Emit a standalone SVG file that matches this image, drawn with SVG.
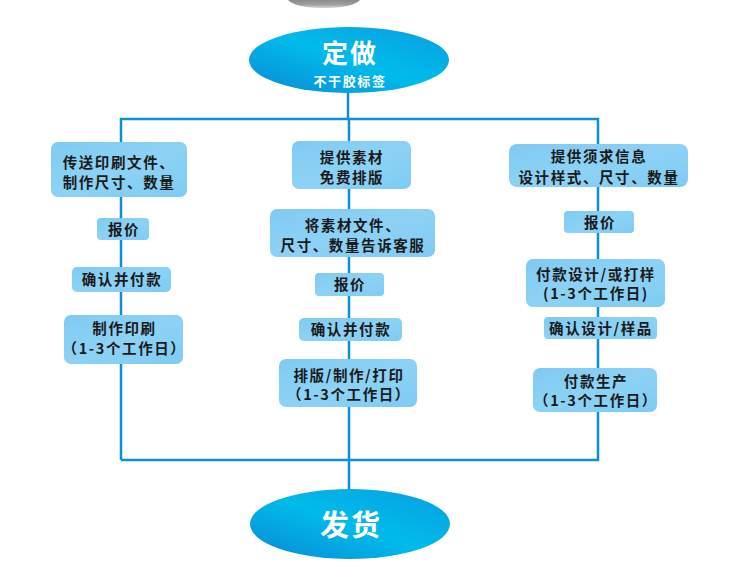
<svg xmlns="http://www.w3.org/2000/svg" width="750" height="581" viewBox="0 0 750 581">
<defs>
<linearGradient id="eg" x1="0" y1="1" x2="1" y2="0">
<stop offset="0" stop-color="#0a88d6"/>
<stop offset="0.5" stop-color="#00bbea"/>
<stop offset="1" stop-color="#0a9ee0"/>
</linearGradient>
<linearGradient id="sh" x1="0" y1="0" x2="0" y2="1">
<stop offset="0" stop-color="#8c8c8c"/>
<stop offset="0.6" stop-color="#a0a0a0"/>
<stop offset="1" stop-color="#d8d8d8"/>
</linearGradient>
<linearGradient id="bg" x1="0" y1="0" x2="1" y2="1">
<stop offset="0" stop-color="#7fcaf2"/>
<stop offset="0.5" stop-color="#8dd2f5"/>
<stop offset="1" stop-color="#7fcbf3"/>
</linearGradient>
</defs>
<style>
.box{fill:url(#bg)}
.t{font-family:"Noto Sans CJK SC","Liberation Sans",sans-serif;font-size:14.5px;font-weight:bold;letter-spacing:1.6px;fill:#1a1a1a;text-anchor:middle}
.w{font-family:"Noto Sans CJK SC","Liberation Sans",sans-serif;font-weight:bold;fill:#ffffff;text-anchor:middle}
.ln{stroke:#0a90d8;stroke-width:2.5;fill:none}
</style>
<rect width="750" height="581" fill="#ffffff"/>
<path d="M288,0 L360,0 Q352,8 324,8 Q296,8 288,0 Z" fill="url(#sh)"/>

<g id="connectors">
<line class="ln" x1="348" y1="92" x2="348" y2="119"/>
<polyline class="ln" points="121,460 121,119 598,119 598,460 121,460"/>
<line class="ln" x1="349" y1="119" x2="349" y2="490"/>
</g>

<g id="start">
<ellipse cx="349" cy="60" rx="100" ry="33" fill="url(#eg)"/>
<text class="w" x="350" y="63" font-size="26" letter-spacing="2">定做</text>
<text class="w" x="350" y="86" font-size="13" letter-spacing="1.6">不干胶标签</text>
</g>

<g id="end">
<ellipse cx="350" cy="524" rx="100" ry="35" fill="url(#eg)"/>
<text class="w" x="351" y="536" font-size="29" letter-spacing="2">发货</text>
</g>

<g id="l1"><rect class="box" x="51" y="142" width="136" height="55" rx="7"/>
<text class="t" x="119" y="167.5">传送印刷文件、</text>
<text class="t" x="119" y="187.5">制作尺寸、数量</text></g>
<g id="l2"><rect class="box" x="97" y="218" width="52" height="22" rx="4"/>
<text class="t" x="124" y="234.5">报价</text></g>
<g id="l3"><rect class="box" x="72" y="267" width="99" height="25" rx="5"/>
<text class="t" x="122" y="285">确认并付款</text></g>
<g id="l4"><rect class="box" x="64" y="315" width="119" height="49" rx="7"/>
<text class="t" x="124.5" y="333.5">制作印刷</text>
<text class="t" x="124.5" y="353.5">（1-3个工作日）</text></g>

<g id="m1"><rect class="box" x="292" y="141" width="119" height="48" rx="7"/>
<text class="t" x="352" y="162.5">提供素材</text>
<text class="t" x="352" y="182.5">免费排版</text></g>
<g id="m2"><rect class="box" x="270" y="209" width="165" height="48" rx="7"/>
<text class="t" x="353" y="230.5">将素材文件、</text>
<text class="t" x="353" y="250.5">尺寸、数量告诉客服</text></g>
<g id="m3"><rect class="box" x="315" y="273" width="69" height="23" rx="4"/>
<text class="t" x="350" y="290">报价</text></g>
<g id="m4"><rect class="box" x="299" y="318" width="103" height="23" rx="5"/>
<text class="t" x="351" y="335">确认并付款</text></g>
<g id="m5"><rect class="box" x="279" y="359" width="138" height="48" rx="7"/>
<text class="t" x="349" y="380.5">排版/制作/打印</text>
<text class="t" x="349" y="399.5">（1-3个工作日）</text></g>

<g id="r1"><rect class="box" x="509" y="144" width="179" height="43" rx="8"/>
<text class="t" x="599" y="161.5">提供须求信息</text>
<text class="t" x="599" y="182.5">设计样式、尺寸、数量</text></g>
<g id="r2"><rect class="box" x="564" y="211" width="70" height="22" rx="4"/>
<text class="t" x="600" y="227.5">报价</text></g>
<g id="r3"><rect class="box" x="526" y="259" width="139" height="48" rx="7"/>
<text class="t" x="596" y="279.5">付款设计/或打样</text>
<text class="t" x="596" y="298.5">(1-3个工作日)</text></g>
<g id="r4"><rect class="box" x="544" y="317" width="113" height="22" rx="4"/>
<text class="t" x="601" y="333.5">确认设计/样品</text></g>
<g id="r5"><rect class="box" x="533" y="368" width="124" height="44" rx="7"/>
<text class="t" x="596" y="386.5">付款生产</text>
<text class="t" x="596" y="405.5">（1-3个工作日）</text></g>
</svg>
